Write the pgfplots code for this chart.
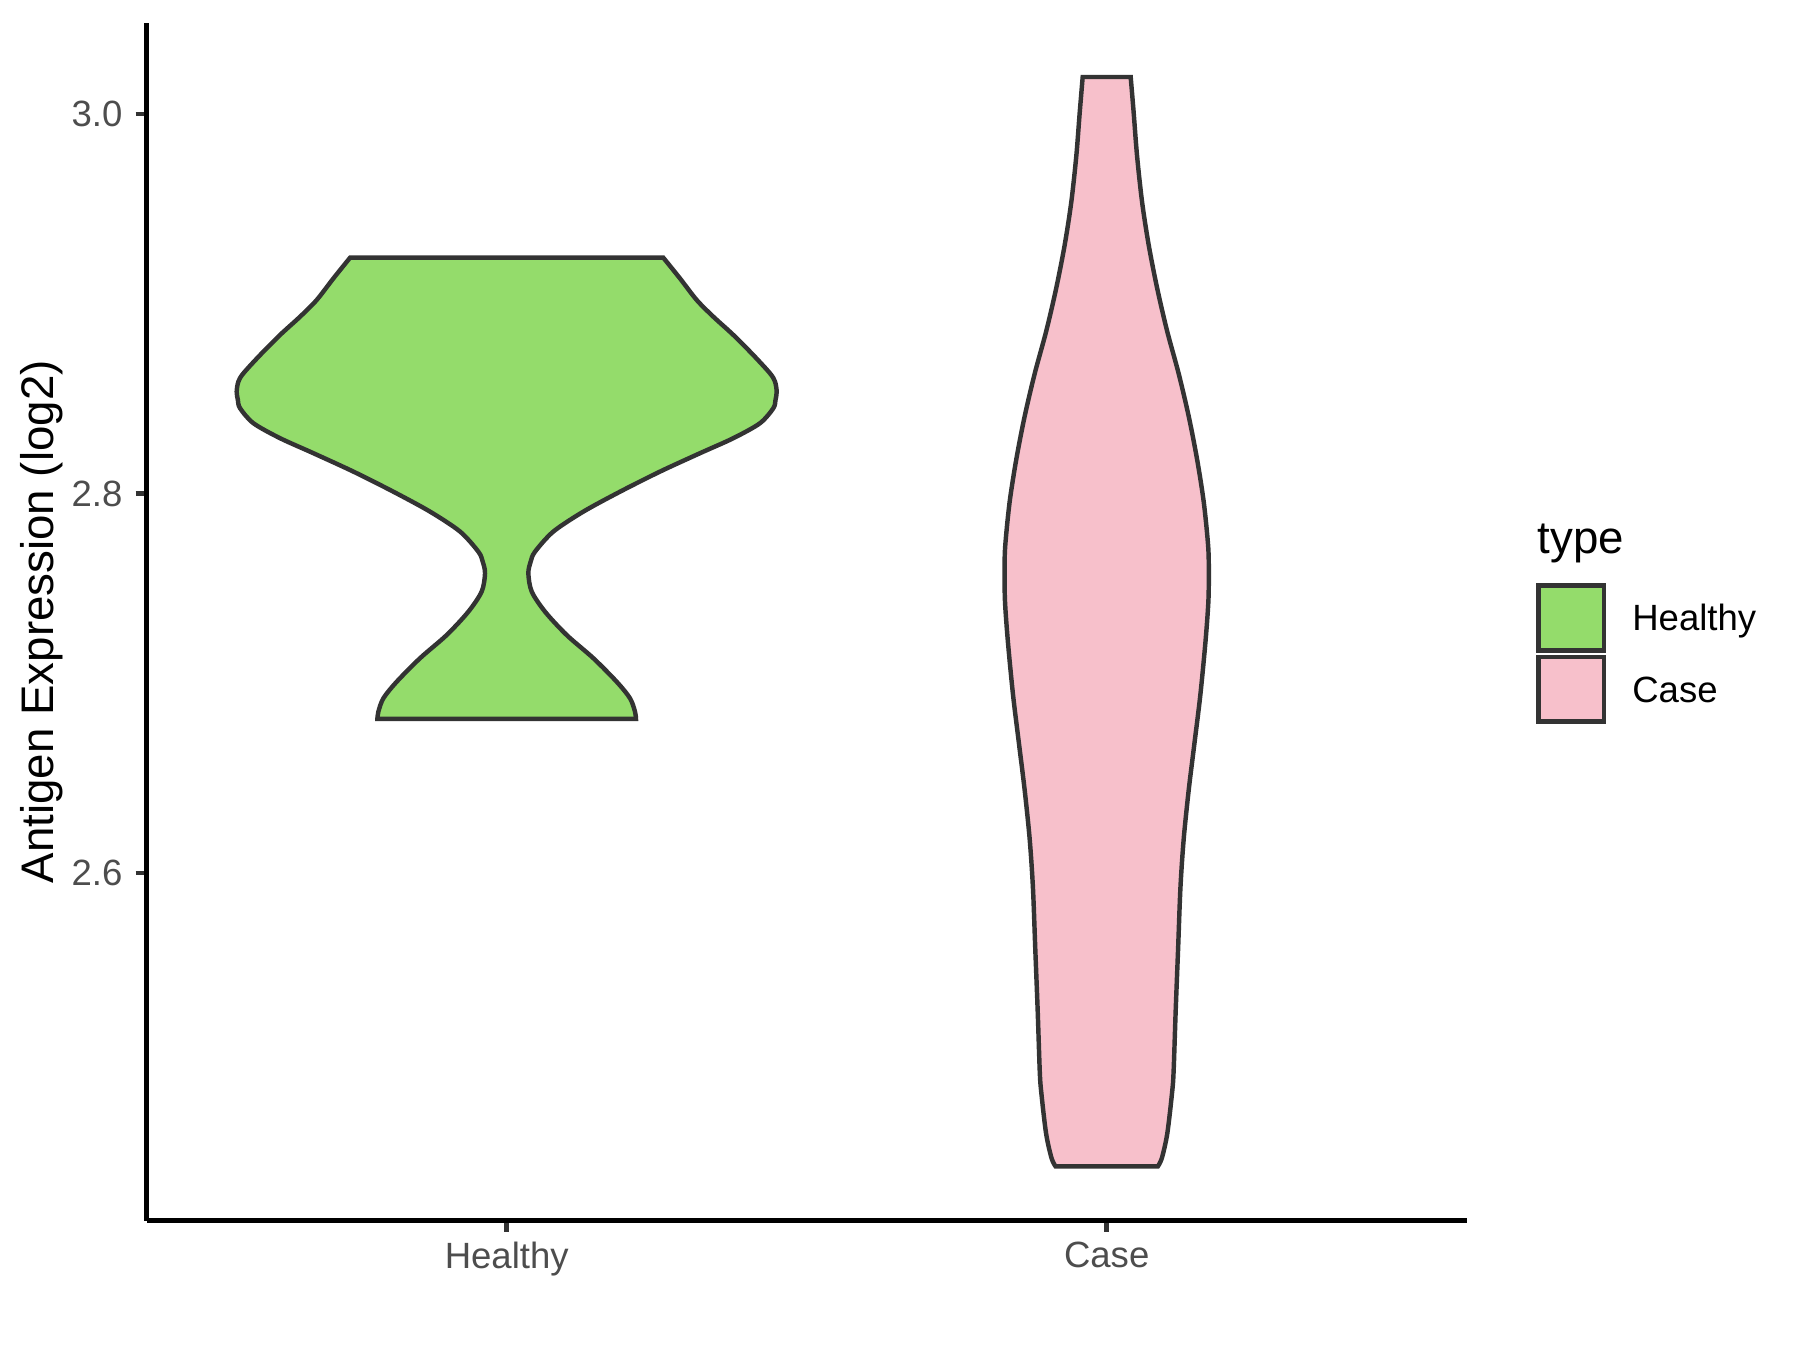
\documentclass[border=0pt]{standalone}
\usepackage{pgfplots}
\pgfplotsset{compat=1.18}
\usepgfplotslibrary{fillbetween}
\usepackage{pgfplotstable}
\usepackage{fontspec}
\setmainfont{Liberation Sans}
\definecolor{hgreen}{HTML}{94DC6B}
\definecolor{cpink}{HTML}{F7C0CB}
\definecolor{gray20}{HTML}{333333}
\definecolor{gray30}{HTML}{4D4D4D}

% violin profiles: y, half-width w (top to bottom)
\pgfplotstableread{
y w
2.9243 0.2610
2.9134 0.2888
2.9020 0.3167
2.8932 0.3444
2.8836 0.3777
2.8730 0.4110
2.8634 0.4388
2.8590 0.4472
2.8537 0.4500
2.8493 0.4480
2.8450 0.4444
2.8371 0.4222
2.8292 0.3777
2.8213 0.3222
2.8116 0.2555
2.8010 0.1888
2.7905 0.1277
2.7800 0.0777
2.7694 0.0472
2.7642 0.0400
2.7580 0.0361
2.7484 0.0417
2.7378 0.0639
2.7255 0.1000
2.7133 0.1444
2.7009 0.1833
2.6922 0.2055
2.6851 0.2139
2.6813 0.2155
}\healthy

\pgfplotstableread{
y w
3.0195 0.0400
3.0006 0.0450
2.9780 0.0506
2.9536 0.0590
2.9310 0.0700
2.9084 0.0840
2.8858 0.1006
2.8632 0.1200
2.8406 0.1368
2.8180 0.1507
2.7955 0.1618
2.7729 0.1690
2.7600 0.1702
2.7433 0.1695
2.7218 0.1646
2.6937 0.1560
2.6678 0.1460
2.6441 0.1368
2.6182 0.1284
2.5923 0.1229
2.5600 0.1190
2.5276 0.1150
2.4953 0.1115
2.4845 0.1090
2.4629 0.1010
2.4500 0.0920
2.4456 0.0853
}\casev

\begin{document}
\begin{tikzpicture}
% canvas
\path (-35.34pt,-31.15pt) rectangle (398.3pt,294.07pt);
\begin{axis}[
  at={(0,0)}, anchor=south west,
  scale only axis, width=318.0pt, height=288.6pt,
  xmin=0.4, xmax=2.6, ymin=2.417, ymax=3.0481,
  axis x line*=bottom, axis y line*=left,
  axis line style={-, black, line width=1.07pt},
  xtick={1,2}, xticklabels={Healthy,Case},
  ytick={2.6,2.8,3.0}, yticklabels={2.6,2.8,3.0},
  tick align=outside, major tick length=2.65pt,
  tick style={gray20, line width=1.07pt},
  /pgf/number format/assume math mode=true,
  tick label style={font=\fontsize{8.8}{10}\selectfont, text=gray30},
  xticklabel style={anchor=north, inner sep=0pt, yshift=-2.4pt},
  yticklabel style={anchor=east, inner sep=0pt, xshift=-3pt},
  every axis y label/.style={at={(axis description cs:-0.0799,0.5)}, rotate=90, anchor=center},
  ylabel={\fontsize{11}{13}\selectfont Antigen Expression (log2)},
  clip=false,
]
\addplot[draw=none, smooth, name path=hr] table[x expr=1+\thisrow{w}, y=y] {\healthy};
\addplot[draw=none, smooth, name path=hl] table[x expr=1-\thisrow{w}, y=y] {\healthy};
\addplot[fill=hgreen, draw=gray20, line width=1.07pt] fill between[of=hr and hl, reverse=true];
\addplot[draw=none, smooth, name path=cr] table[x expr=2+\thisrow{w}, y=y] {\casev};
\addplot[draw=none, smooth, name path=cl] table[x expr=2-\thisrow{w}, y=y] {\casev};
\addplot[fill=cpink, draw=gray20, line width=1.07pt] fill between[of=cr and cl, reverse=true];
\end{axis}
% legend
\node[anchor=base west, inner sep=0pt, font=\fontsize{11}{13}\selectfont] at (334.9pt,160.6pt) {type};
\draw[fill=hgreen, draw=gray20, line width=1.07pt] (335.3pt,137.4pt) rectangle (351.1pt,153.0pt);
\draw[fill=cpink, draw=gray20, line width=1.07pt] (335.3pt,120.2pt) rectangle (351.1pt,135.8pt);
\node[anchor=base west, inner sep=0pt, font=\fontsize{8.8}{10}\selectfont] at (357.7pt,142.05pt) {Healthy};
\node[anchor=base west, inner sep=0pt, font=\fontsize{8.8}{10}\selectfont] at (357.7pt,124.85pt) {Case};
\end{tikzpicture}
\end{document}
